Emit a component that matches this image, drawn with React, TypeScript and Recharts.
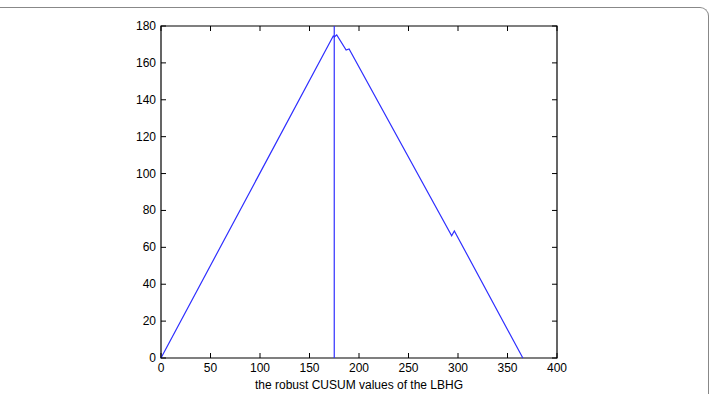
import React from 'react';
import { LineChart, Line, XAxis, YAxis, ReferenceLine, ReferenceArea } from 'recharts';

// CUSUM path breakpoints
const cusumX = [0, 174, 175, 177.5, 187, 190, 293.6, 296.3, 365.5];
const cusumY = [0, 174.6, 174, 175.2, 167, 167.6, 66.3, 68.9, 0];
const changePoint = 175;

const xTicks = [0, 50, 100, 150, 200, 250, 300, 350, 400];
const yTicks = [0, 20, 40, 60, 80, 100, 120, 140, 160, 180];
const xLabel = 'the robust CUSUM values of the LBHG';

const BLUE = '#2f2fff';
const FONT = '"Liberation Sans", Arial, Helvetica, sans-serif';
const TICK_LEN = 5;
// plot box edges in pixels, used only to orient the inward tick marks
const PLOT_TOP = 26;
const PLOT_BOTTOM = 358;
const PLOT_LEFT = 161;
const PLOT_RIGHT = 557;

const data = cusumX.map((x, i) => ({ x, y: cusumY[i] }));

const BottomTick = (props: any) => {
    const { x, payload } = props;
    return (
        <g>
            <line x1={x} x2={x} y1={PLOT_BOTTOM} y2={PLOT_BOTTOM - TICK_LEN} stroke="#000" strokeWidth={1} />
            <line x1={x} x2={x} y1={PLOT_TOP} y2={PLOT_TOP + TICK_LEN} stroke="#000" strokeWidth={1} />
            <text x={x} y={PLOT_BOTTOM + 14} textAnchor="middle" fontSize={12} fontFamily={FONT} fill="#000">
                {payload.value}
            </text>
        </g>
    );
};

const LeftTick = (props: any) => {
    const { y, payload } = props;
    return (
        <g>
            <line x1={PLOT_LEFT} x2={PLOT_LEFT + TICK_LEN} y1={y} y2={y} stroke="#000" strokeWidth={1} />
            <line x1={PLOT_RIGHT} x2={PLOT_RIGHT - TICK_LEN} y1={y} y2={y} stroke="#000" strokeWidth={1} />
            <text x={PLOT_LEFT - 5} y={y + 4} textAnchor="end" fontSize={12} fontFamily={FONT} fill="#000">
                {payload.value}
            </text>
        </g>
    );
};

export default function App() {
    return (
        <div style={{ position: 'absolute', left: 0, top: 0, width: 711, height: 394, background: '#fff', overflow: 'hidden' }}>
            {/* frame of the figure panel */}
            <div
                style={{
                    position: 'absolute',
                    left: -20,
                    top: 7,
                    width: 729,
                    height: 420,
                    borderTop: '1.5px solid #888',
                    borderRight: '1.5px solid #888',
                    borderTopRightRadius: 9,
                    boxSizing: 'border-box',
                }}
            />
            <div style={{ position: 'absolute', left: 0, top: 0 }}>
                <LineChart width={711} height={394} data={data} margin={{ top: 26, right: 154, left: 0, bottom: 0 }}>
                    <XAxis
                        dataKey="x"
                        type="number"
                        domain={[0, 400]}
                        ticks={xTicks}
                        interval={0}
                        height={36}
                        tickSize={0}
                        tickMargin={0}
                        tickLine={false}
                        axisLine={false}
                        tick={<BottomTick />}
                        label={{ value: xLabel, position: 'insideBottom', offset: 5, fontSize: 12, fontFamily: FONT, fill: '#000' }}
                    />
                    <YAxis
                        type="number"
                        domain={[0, 180]}
                        ticks={yTicks}
                        interval={0}
                        width={161}
                        tickSize={0}
                        tickMargin={0}
                        tickLine={false}
                        axisLine={false}
                        tick={<LeftTick />}
                    />
                    <ReferenceArea
                        x1={0}
                        x2={400}
                        y1={0}
                        y2={180}
                        fill="none"
                        fillOpacity={0}
                        stroke="#000"
                        strokeWidth={1.2}
                    />
                    <ReferenceLine x={changePoint} stroke={BLUE} strokeWidth={1.2} />
                    <Line
                        type="linear"
                        dataKey="y"
                        stroke={BLUE}
                        strokeWidth={1.2}
                        dot={false}
                        isAnimationActive={false}
                    />
                </LineChart>
            </div>
        </div>
    );
}
